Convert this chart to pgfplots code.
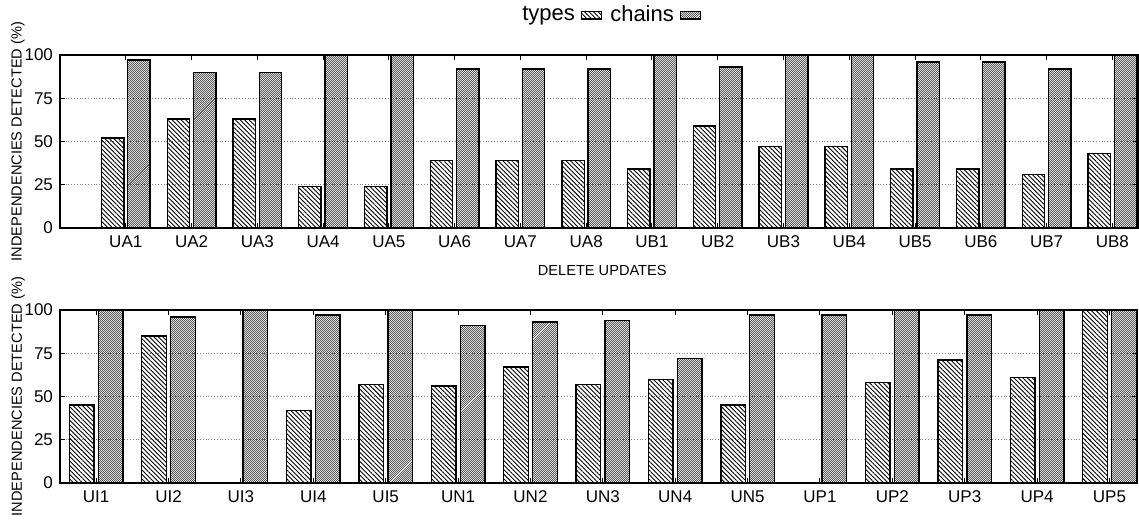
\documentclass[border=0pt]{standalone}
\usepackage{pgfplots}
\pgfplotsset{compat=1.18}
\usepackage{fontspec}
\setmainfont{Liberation Sans}
\usetikzlibrary{patterns.meta}

\pgfplotsset{
  depaxis/.style={
    scale only axis, anchor=south west,
    ymin=0, ymax=100, ytick={0,25,50,75,100},
    ymajorgrids, grid style={densely dotted, gray, line width=0.45pt},
    axis line style={line width=0.8pt},
    tick align=inside, major tick length=2.5pt,
    tick style={black, line width=0.5pt},
    xtick=data,
    tick label style={font=\fontsize{8.5}{9}\selectfont},
    /pgf/number format/assume math mode=true,
    label style={font=\fontsize{7.3}{8}\selectfont},
    ylabel={INDEPENDENCIES DETECTED (\%)},
    ylabel style={at={(axis description cs:-0.039,0.5)}, anchor=center},
    xticklabel style={yshift=-0.5pt},
  },
  legimg/.style={legend image code/.code={\draw[##1] (0pt,-1.8pt) rectangle (10pt,1.8pt);}},
  typesbar/.style={ybar, bar width=0.34, bar shift=-0.2, draw=black, line width=0.7pt,
    pattern={Lines[angle=-45,distance=1.6pt,line width=0.45pt]}, legimg},
  chainsbar/.style={ybar, bar width=0.34, bar shift=0.2, draw=black, line width=0.7pt,
    pattern={Lines[angle=45,distance=0.62pt,line width=0.32pt]}, legimg},
}

\begin{document}
\begin{tikzpicture}
% delete updates
\begin{axis}[depaxis,
  at={(30pt,149.5pt)}, width=539pt, height=86.5pt,
  xmin=-1, xmax=15.39,
  xticklabels={UA1,UA2,UA3,UA4,UA5,UA6,UA7,UA8,UB1,UB2,UB3,UB4,UB5,UB6,UB7,UB8},
  xlabel={DELETE UPDATES},
  xlabel style={at={(axis description cs:0.503,-0.243)}, anchor=center},
  legend entries={types,chains},
  legend plot pos=right,
  legend columns=2,
  legend style={draw=none, fill=none, at={(axis description cs:0.51,1.23)}, anchor=center,
    font=\fontsize{11}{12}\selectfont, column sep=2pt,
    /tikz/every odd column/.append style={column sep=1pt}},
]
\addplot[typesbar] coordinates {
 (0,52) (1,63) (2,63) (3,24) (4,24) (5,39) (6,39) (7,39)
 (8,34) (9,59) (10,47) (11,47) (12,34) (13,34) (14,31) (15,43)};
\addplot[chainsbar] coordinates {
 (0,97) (1,90) (2,90) (3,100) (4,100) (5,92) (6,92) (7,92)
 (8,100) (9,93) (10,100) (11,100) (12,96) (13,96) (14,92) (15,100)};
\end{axis}

% insert / rename / replace
\begin{axis}[depaxis,
  at={(30pt,22pt)}, width=538.5pt, height=86.5pt,
  xmin=-0.5, xmax=14.38,
  xticklabels={UI1,UI2,UI3,UI4,UI5,UN1,UN2,UN3,UN4,UN5,UP1,UP2,UP3,UP4,UP5},
]
\addplot[typesbar] coordinates {
 (0,45) (1,85) (2,0) (3,42) (4,57) (5,56) (6,67) (7,57)
 (8,60) (9,45) (10,0) (11,58) (12,71) (13,61) (14,100)};
\addplot[chainsbar] coordinates {
 (0,100) (1,96) (2,100) (3,97) (4,100) (5,91) (6,93) (7,94)
 (8,72) (9,97) (10,97) (11,100) (12,97) (13,100) (14,100)};
\node[font=\fontsize{7.3}{8}\selectfont] at (axis description cs:0.310,-0.197) {INSERT};
\node[font=\fontsize{7.3}{8}\selectfont] at (axis description cs:0.498,-0.197) {RENAME};
\node[font=\fontsize{7.3}{8}\selectfont] at (axis description cs:0.690,-0.197) {REPLACE};
\end{axis}
\pgfresetboundingbox
\useasboundingbox (0,0) rectangle (569.5pt,263.5pt);
\end{tikzpicture}
\end{document}
